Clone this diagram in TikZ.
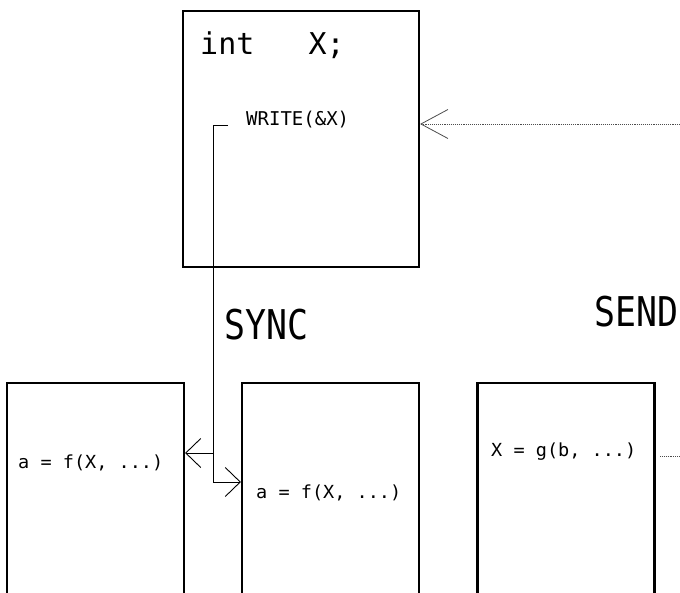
\documentclass[tikz,border=0pt]{standalone}
\usepackage{fontspec}
\setmonofont{DejaVu Sans Mono}
\usetikzlibrary{arrows.meta}

\tikzset{
  proc/.style={draw, line width=2.2pt, minimum width=177pt, inner sep=0pt},
  code/.style={font=\ttfamily\fontsize{18}{18}\selectfont, inner sep=0pt, anchor=base west, xscale=1.03},
  big/.style={font=\ttfamily\fontsize{41}{41}\selectfont, inner sep=0pt, anchor=base west, xscale=0.85},
  link/.style={line width=0.9pt},
  msg/.style={line width=0.9pt, densely dotted, black!70},
  vtip/.style={-{Straight Barb[length=15pt, width=29pt, line width=0.9pt]}},
  wtip/.style={-{Straight Barb[length=27pt, width=29pt, line width=0.8pt]}}
}

\begin{document}
\begin{tikzpicture}[x=1pt, y=-1pt]
  \useasboundingbox (0,0) rectangle (680,593);
  \clip (0,0) rectangle (680,593);

  % process holding the shared variable
  \node[proc, minimum width=236pt, minimum height=256pt] (owner) at (301,139) {};
  \node[font=\ttfamily\fontsize{30}{30}\selectfont, inner sep=0pt, anchor=base west]
    (decl) at (200,55) {int\ \ \ X;};
  \node[font=\ttfamily\fontsize{19}{19}\selectfont, inner sep=0pt, anchor=base west]
    (write) at (246,126) {WRITE(\&X)};

  % three reader / writer processes, open at the bottom
  \node[proc, minimum height=300pt] (left) at (95.5,533) {};
  \node[proc, minimum height=300pt] (mid)  at (330.5,533) {};
  \node[proc, minimum height=300pt] (right) at (566,533) {};

  \node[code] (lread) at (18,468) {a = f(X, ...)};
  \node[code] (mread) at (256,498) {a = f(X, ...)};
  \node[code] (rwrite) at (491,456) {X = g(b, ...)};

  % labels
  \node[big] (sync) at (224,340) {SYNC};
  \node[big] (send) at (594,327) {SEND};

  % synchronous update from the owner to both readers
  \coordinate (wstart) at (228,125);
  \coordinate (bend) at (213,125);
  \coordinate (split) at (213,453);
  \coordinate (lowbend) at (213,482);
  \draw[link] (wstart) -- (bend) -- (lowbend);
  \draw[link, vtip] (split) -- (split -| left.east);
  \draw[link, vtip] (lowbend) -- (lowbend -| mid.west);

  % asynchronous message arriving at the owner
  \coordinate (inmsg) at (680,124);
  \draw[msg, wtip] (inmsg) -- (inmsg -| owner.east);

  % outgoing message from the writer
  \coordinate (outmsg) at (660,456);
  \coordinate (outend) at (680,456);
  \draw[msg] (outmsg) -- (outend);
\end{tikzpicture}
\end{document}
